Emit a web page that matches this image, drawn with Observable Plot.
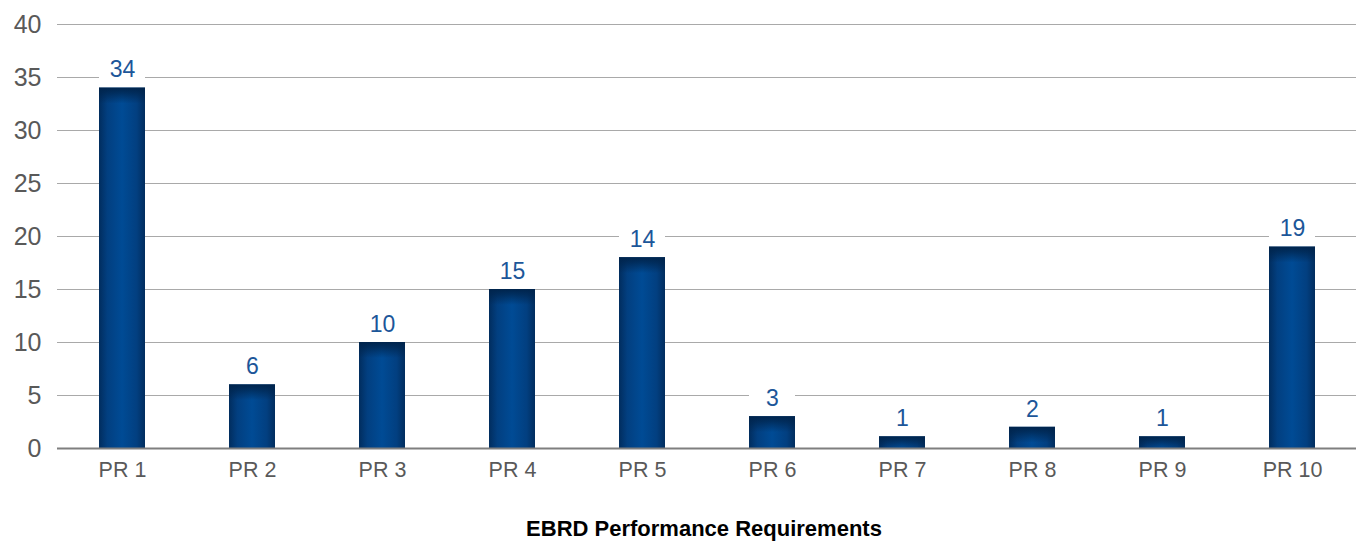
<!DOCTYPE html>
<html>
<head>
<meta charset="utf-8">
<script src="https://cdn.jsdelivr.net/npm/d3@7"></script>
<script src="https://cdn.jsdelivr.net/npm/@observablehq/plot@0.6"></script>
<style>
  html, body { margin: 0; padding: 0; background: #fff; }
  #chart svg { display: block; }
</style>
</head>
<body>
<div id="chart"></div>
<script>
const categories = ["PR 1", "PR 2", "PR 3", "PR 4", "PR 5", "PR 6", "PR 7", "PR 8", "PR 9", "PR 10"];
const barHeights = [34, 6, 10, 15, 18, 3, 1.1, 2, 1.1, 19];
const labels = ["34", "6", "10", "15", "14", "3", "1", "2", "1", "19"];
const yTicks = [0, 5, 10, 15, 20, 25, 30, 35, 40];
const axisTitle = "EBRD Performance Requirements";

const data = categories.map((c, i) => ({ cat: c, v: barHeights[i], label: labels[i] }));

const font = "'Liberation Sans', Arial, sans-serif";

const chart = Plot.plot({
  width: 1362,
  height: 542,
  marginLeft: 57,
  marginRight: 6,
  marginTop: 24,
  marginBottom: 94,
  style: { fontFamily: font, background: "#fff" },
  x: { domain: categories, paddingInner: 0.647, paddingOuter: 0.3, label: null },
  y: { domain: [0, 40], ticks: yTicks, label: null },
  marks: [
    Plot.gridY(yTicks.filter(t => t > 0), { stroke: "#a9a9a9", strokeOpacity: 1, strokeWidth: 1 }),
    Plot.axisY({ ticks: yTicks, tickSize: 0, tickPadding: 16, fontSize: 25, fill: "#595959", label: null }),
    Plot.axisX({ tickSize: 0, tickPadding: 13, fontSize: 21.5, fill: "#595959", label: null }),
    // white label backgrounds breaking the gridlines
    Plot.barY(data, { x: "cat", y1: d => d.v + 0.7, y2: d => d.v + 2.9, fill: "#ffffff" }),
    // bars with horizontal gradient
    Plot.barY(data, { x: "cat", y: "v", fill: "url(#barGradH)" }),
    // dark top shading
    Plot.barY(data, { x: "cat", y1: "v", y2: d => Math.max(0, d.v - 1.5), fill: "url(#barGradV)" }),
    Plot.ruleY([0], { stroke: "#7f7f7f", strokeWidth: 2 }),
    Plot.text(data, { x: "cat", y: "v", text: "label", dy: -18, fontSize: 23, fill: "#1c5699", textAnchor: "middle", lineAnchor: "middle" }),
    Plot.text([axisTitle], { frameAnchor: "bottom", dx: -3, dy: 80, text: d => d, fontSize: 22, fontWeight: "bold", fill: "#000", textAnchor: "middle", lineAnchor: "middle" })
  ]
});

// add gradient definitions
const ns = "http://www.w3.org/2000/svg";
const defs = document.createElementNS(ns, "defs");
defs.innerHTML = `
  <linearGradient id="barGradH" x1="0" y1="0" x2="1" y2="0">
    <stop offset="0" stop-color="#012d5e"/>
    <stop offset="0.18" stop-color="#023f80"/>
    <stop offset="0.5" stop-color="#004b95"/>
    <stop offset="0.82" stop-color="#023f80"/>
    <stop offset="1" stop-color="#012d5e"/>
  </linearGradient>
  <linearGradient id="barGradV" x1="0" y1="0" x2="0" y2="1">
    <stop offset="0" stop-color="#00244c" stop-opacity="1"/>
    <stop offset="0.35" stop-color="#00244c" stop-opacity="0.7"/>
    <stop offset="1" stop-color="#00244c" stop-opacity="0"/>
  </linearGradient>`;
chart.insertBefore(defs, chart.firstChild);

document.getElementById("chart").appendChild(chart);
</script>
</body>
</html>
